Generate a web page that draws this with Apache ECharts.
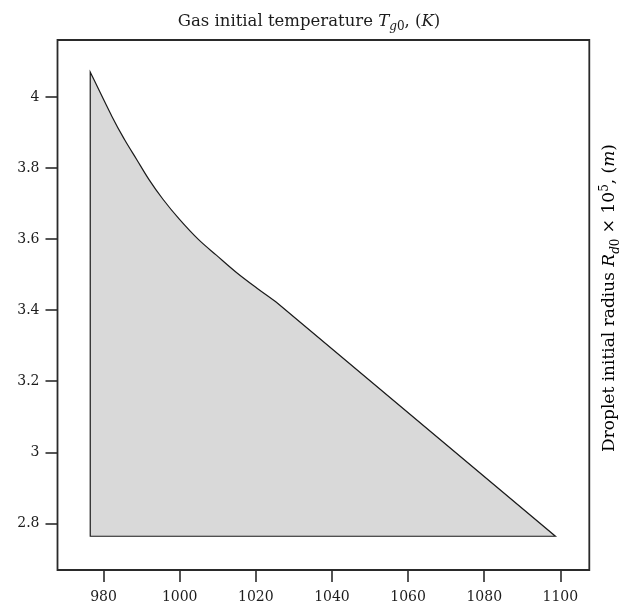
<!DOCTYPE html>
<html>
<head>
<meta charset="utf-8">
<script src="https://cdn.jsdelivr.net/npm/echarts@6/dist/echarts.min.js"></script>
<style>
  html, body { margin: 0; padding: 0; background: #fff; }
  #chart { width: 634px; height: 605px; }
</style>
</head>
<body>
<div id="chart"></div>
<script>
// Upper boundary of the shaded region: gas temperature (K) vs droplet radius (x1e5 m).
// The last point is the lower-right corner; the base of the region sits at its radius.
const temperature = [976.5, 982.2, 985.5, 988.7, 991.9, 995.6, 999.9, 1004.9, 1009.7, 1014.9, 1020.4, 1025.4, 1098.7];
const radius      = [4.070, 3.945, 3.880, 3.824, 3.768, 3.712, 3.656, 3.599, 3.554, 3.506, 3.461, 3.422, 2.764];

// Tick positions
const xTicks = [980, 1000, 1020, 1040, 1060, 1080, 1100];
const yTicks = [2.8, 3, 3.2, 3.4, 3.6, 3.8, 4];

const FONT = 'DejaVu Serif';
const INK = '#1c1c1c';

function mathRich(size) {
  const small = Math.round(size * 0.7);
  const lh = size + 6;
  return {
    n:  { fontFamily: FONT, fontSize: size, fontWeight: 'normal', color: INK, lineHeight: lh },
    i:  { fontFamily: FONT, fontSize: size, fontWeight: 'normal', color: INK, lineHeight: lh, fontStyle: 'italic' },
    s:  { fontFamily: FONT, fontSize: small, fontWeight: 'normal', color: INK, lineHeight: small, verticalAlign: 'bottom', fontStyle: 'italic' },
    s0: { fontFamily: FONT, fontSize: small, fontWeight: 'normal', color: INK, lineHeight: small, verticalAlign: 'bottom' },
    p:  { fontFamily: FONT, fontSize: small, fontWeight: 'normal', color: INK, lineHeight: small, verticalAlign: 'top' }
  };
}

const boundary = temperature.map((t, i) => [t, radius[i]]);
const baseRadius = radius[radius.length - 1];

// Smooth outline through the boundary points (Catmull-Rom as cubic Beziers),
// straight edge down to the lower-right corner, then along the base and up the left side.
function regionPath(api) {
  const P = boundary.map(d => api.coord(d));
  const corner = api.coord([temperature[0], baseRadius]);
  const last = P.length - 1;        // lower-right corner
  const kink = last - 1;            // end of the curved part
  // Neighbour used for the tangent at the end of the curve: toward the corner,
  // at the same spacing as the preceding point.
  const a = P[kink - 1], b = P[kink], c = P[last];
  const segLen = Math.hypot(b[0] - a[0], b[1] - a[1]);
  const dirLen = Math.hypot(c[0] - b[0], c[1] - b[1]);
  const after = [b[0] + (c[0] - b[0]) * segLen / dirLen, b[1] + (c[1] - b[1]) * segLen / dirLen];
  const Q = P.slice(0, kink + 1).concat([after]);

  const f = v => v.toFixed(2);
  let d = 'M' + f(corner[0]) + ' ' + f(corner[1]) + ' L' + f(Q[0][0]) + ' ' + f(Q[0][1]);
  for (let i = 0; i < kink; i++) {
    const p0 = Q[Math.max(i - 1, 0)], p1 = Q[i], p2 = Q[i + 1], p3 = Q[i + 2];
    const c1 = [p1[0] + (p2[0] - p0[0]) / 6, p1[1] + (p2[1] - p0[1]) / 6];
    const c2 = [p2[0] - (p3[0] - p1[0]) / 6, p2[1] - (p3[1] - p1[1]) / 6];
    d += ' C' + f(c1[0]) + ' ' + f(c1[1]) + ' ' + f(c2[0]) + ' ' + f(c2[1]) + ' ' + f(p2[0]) + ' ' + f(p2[1]);
  }
  d += ' L' + f(P[last][0]) + ' ' + f(P[last][1]) + ' Z';
  return d;
}

const chart = echarts.init(document.getElementById('chart'), null, { renderer: 'canvas' });

chart.setOption({
  animation: false,
  backgroundColor: '#fff',
  title: {
    text: '{n|Gas initial temperature }{i|T}{s|g}{s0|0}{n|, (}{i|K}{n|)}',
    left: 304,
    top: 5,
    textAlign: 'center',
    textStyle: { fontWeight: 'normal', rich: mathRich(16.5) }
  },
  graphic: [{
    type: 'text',
    x: 610,
    y: 298,
    rotation: Math.PI / 2,
    style: {
      text: '{n|Droplet initial radius }{i|R}{s|d}{s0|0}{n| × 10}{p|5}{n|, (}{i|m}{n|)}',
      align: 'center',
      verticalAlign: 'middle',
      rich: mathRich(17)
    }
  }],
  grid: {
    left: 57.5,
    right: 44.7,
    top: 40,
    bottom: 35,
    show: true,
    borderColor: '#2a2a2a',
    borderWidth: 1.8,
    backgroundColor: 'transparent'
  },
  xAxis: {
    type: 'value',
    min: 967.9,
    max: 1107.6,
    axisLine: { show: false },
    splitLine: { show: false },
    axisTick: {
      show: true,
      customValues: xTicks,
      length: 12,
      lineStyle: { color: '#2a2a2a', width: 1.6 }
    },
    axisLabel: {
      customValues: xTicks,
      margin: 20,
      fontFamily: FONT,
      fontSize: 14,
      color: INK,
      formatter: v => String(Math.round(v))
    }
  },
  yAxis: {
    type: 'value',
    min: 2.669,
    max: 4.16,
    axisLine: { show: false },
    splitLine: { show: false },
    axisTick: {
      show: true,
      customValues: yTicks,
      length: 12,
      lineStyle: { color: '#2a2a2a', width: 1.6 }
    },
    axisLabel: {
      customValues: yTicks,
      margin: 18,
      fontFamily: FONT,
      fontSize: 14,
      color: INK,
      formatter: v => String(Math.round(v * 10) / 10)
    }
  },
  series: [{
    type: 'custom',
    data: boundary,
    renderItem: function (params, api) {
      if (params.dataIndex !== 0) return;
      return {
        type: 'path',
        shape: { pathData: regionPath(api) },
        style: { fill: '#d9d9d9', stroke: '#1a1a1a', lineWidth: 1.2 }
      };
    }
  }]
});
</script>
</body>
</html>
